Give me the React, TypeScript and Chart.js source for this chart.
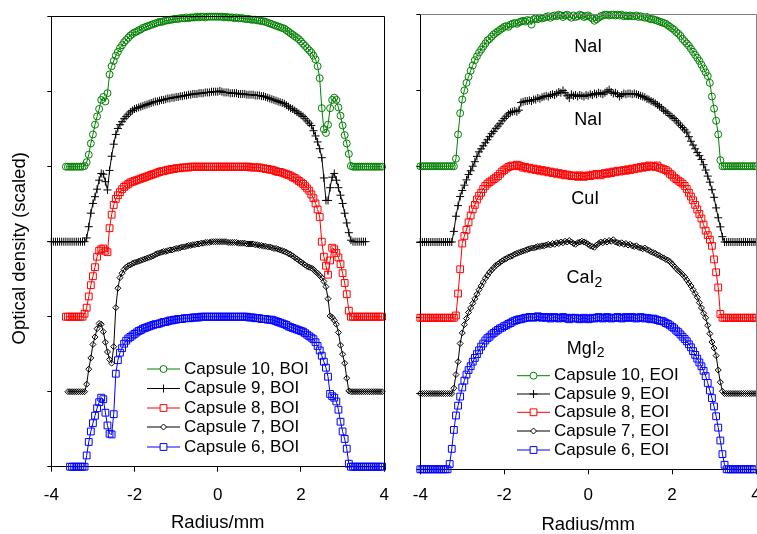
import React, { useEffect, useRef } from 'react';
import { Chart, registerables } from 'chart.js';

Chart.register(...registerables);
Chart.defaults.font.family = "'Liberation Sans', Arial, sans-serif";
Chart.defaults.color = '#000';

const _ = null;

// radius grid (mm)
const RADIUS_MM = [
  -4, -3.95, -3.9, -3.85, -3.8, -3.75, -3.7, -3.65, -3.6, -3.55, -3.5, -3.45, -3.4, -3.35, -3.3, -3.25, -3.2, -3.15, -3.1, -3.05,
  -3, -2.95, -2.9, -2.85, -2.8, -2.75, -2.7, -2.65, -2.6, -2.55, -2.5, -2.45, -2.4, -2.35, -2.3, -2.25, -2.2, -2.15, -2.1, -2.05,
  -2, -1.95, -1.9, -1.85, -1.8, -1.75, -1.7, -1.65, -1.6, -1.55, -1.5, -1.45, -1.4, -1.35, -1.3, -1.25, -1.2, -1.15, -1.1, -1.05,
  -1, -0.95, -0.9, -0.85, -0.8, -0.75, -0.7, -0.65, -0.6, -0.55, -0.5, -0.45, -0.4, -0.35, -0.3, -0.25, -0.2, -0.15, -0.1, -0.05,
  0, 0.05, 0.1, 0.15, 0.2, 0.25, 0.3, 0.35, 0.4, 0.45, 0.5, 0.55, 0.6, 0.65, 0.7, 0.75, 0.8, 0.85, 0.9, 0.95,
  1, 1.05, 1.1, 1.15, 1.2, 1.25, 1.3, 1.35, 1.4, 1.45, 1.5, 1.55, 1.6, 1.65, 1.7, 1.75, 1.8, 1.85, 1.9, 1.95,
  2, 2.05, 2.1, 2.15, 2.2, 2.25, 2.3, 2.35, 2.4, 2.45, 2.5, 2.55, 2.6, 2.65, 2.7, 2.75, 2.8, 2.85, 2.9, 2.95,
  3, 3.05, 3.1, 3.15, 3.2, 3.25, 3.3, 3.35, 3.4, 3.45, 3.5, 3.55, 3.6, 3.65, 3.7, 3.75, 3.8, 3.85, 3.9, 3.95,
  4,
];

const CAPSULES = ['Capsule 10', 'Capsule 9', 'Capsule 8', 'Capsule 7', 'Capsule 6'];
const OFFSETS = [4, 3, 2, 1, 0];
const X_TICK_STEP = 2;
const Y_TICK_STEP = 1;
const X_TITLE = 'Radius/mm';
const Y_TITLE = 'Optical density (scaled)';

// ---- BOI profiles (scaled, above each capsule's offset) ----
const BOI_10 = [
  _, _, _, _, _, _, _, 0, 0, 0, 0, 0, 0, 0, 0, 0, 0.01, 0.06, 0.16, 0.31,
  0.43, 0.56, 0.67, 0.77, 0.89, 0.93, 0.87, 0.98, 1.23, 1.34, 1.41, 1.48, 1.53, 1.58, 1.62, 1.66, 1.69, 1.72, 1.75, 1.77,
  1.79, 1.80, 1.82, 1.83, 1.85, 1.86, 1.87, 1.88, 1.89, 1.90, 1.91, 1.92, 1.93, 1.93, 1.94, 1.95, 1.95, 1.96, 1.96, 1.97,
  1.97, 1.97, 1.98, 1.98, 1.98, 1.99, 1.98, 1.99, 1.99, 1.99, 2.00, 1.99, 2.00, 2.00, 1.99, 2.00, 2.00, 2.00, 2.00, 2.00,
  2.00, 2.00, 2.00, 1.99, 2.00, 1.99, 1.99, 1.99, 1.98, 1.99, 1.98, 1.98, 1.98, 1.97, 1.97, 1.97, 1.96, 1.96, 1.96, 1.95,
  1.95, 1.94, 1.94, 1.93, 1.92, 1.91, 1.90, 1.89, 1.88, 1.87, 1.86, 1.85, 1.84, 1.82, 1.80, 1.78, 1.76, 1.74, 1.72, 1.70,
  1.67, 1.64, 1.61, 1.58, 1.55, 1.52, 1.48, 1.43, 1.34, 1.18, 0.78, 0.50, 0.45, 0.56, 0.78, 0.89, 0.92, 0.89, 0.79, 0.68,
  0.55, 0.42, 0.31, 0.17, 0.01, 0, 0, 0, 0, 0, 0, 0, 0, 0, 0, 0, 0, 0, 0, 0,
  _,
];
const BOI_9 = [
  0, 0, 0, 0, 0, 0, 0, 0, 0, 0, 0, 0, 0, 0, 0, 0, 0, 0.05, 0.20, 0.38,
  0.51, 0.60, 0.70, 0.82, 0.91, 0.90, 0.80, 0.69, 0.95, 1.14, 1.30, 1.43, 1.51, 1.56, 1.60, 1.64, 1.67, 1.70, 1.73, 1.75,
  1.77, 1.78, 1.79, 1.80, 1.81, 1.82, 1.83, 1.84, 1.85, 1.86, 1.87, 1.87, 1.88, 1.89, 1.89, 1.90, 1.91, 1.91, 1.92, 1.92,
  1.93, 1.93, 1.94, 1.94, 1.95, 1.95, 1.96, 1.96, 1.97, 1.97, 1.97, 1.98, 1.98, 1.98, 1.99, 1.99, 1.99, 2.00, 2.00, 2.00,
  2.00, 2.01, 2.00, 1.99, 1.99, 1.99, 1.98, 1.98, 1.98, 1.98, 1.97, 1.97, 1.97, 1.97, 1.96, 1.96, 1.96, 1.96, 1.95, 1.95,
  1.95, 1.94, 1.94, 1.93, 1.92, 1.91, 1.90, 1.89, 1.88, 1.87, 1.86, 1.85, 1.84, 1.82, 1.80, 1.78, 1.77, 1.75, 1.73, 1.71,
  1.69, 1.67, 1.64, 1.61, 1.58, 1.55, 1.48, 1.41, 1.33, 1.24, 1.12, 0.85, 0.55, 0.55, 0.72, 0.86, 0.91, 0.82, 0.72, 0.62,
  0.51, 0.38, 0.25, 0.12, 0.02, 0, 0, 0, 0, 0, 0, 0, _, _, _, _, _, _, _, _,
  _,
];
const BOI_8 = [
  _, _, _, _, _, _, _, 0, 0, 0, 0, 0, 0, 0, 0, 0, 0.04, 0.12, 0.27, 0.42,
  0.54, 0.66, 0.80, 0.88, 0.90, 0.91, 0.88, 0.86, 1.18, 1.36, 1.49, 1.57, 1.62, 1.66, 1.70, 1.73, 1.75, 1.77, 1.79, 1.80,
  1.81, 1.82, 1.83, 1.84, 1.85, 1.86, 1.87, 1.88, 1.89, 1.90, 1.91, 1.92, 1.93, 1.94, 1.94, 1.95, 1.96, 1.96, 1.97, 1.97,
  1.98, 1.98, 1.98, 1.99, 1.99, 1.99, 1.99, 2.00, 2.00, 2.00, 2.00, 2.00, 2.00, 2.00, 2.00, 2.00, 2.00, 2.00, 2.00, 2.00,
  2.00, 2.00, 2.00, 2.00, 2.00, 2.00, 2.00, 2.00, 2.00, 2.00, 2.00, 2.00, 2.00, 2.00, 2.00, 2.00, 1.99, 1.99, 1.99, 1.99,
  1.99, 1.98, 1.98, 1.97, 1.97, 1.96, 1.96, 1.95, 1.94, 1.93, 1.93, 1.92, 1.91, 1.90, 1.89, 1.88, 1.86, 1.85, 1.83, 1.81,
  1.79, 1.77, 1.74, 1.71, 1.68, 1.63, 1.58, 1.51, 1.43, 1.33, 1.00, 0.80, 0.68, 0.56, 0.75, 0.92, 0.90, 0.85, 0.79, 0.70,
  0.58, 0.45, 0.30, 0.08, 0, 0, 0, 0, 0, 0, 0, 0, 0, 0, 0, 0, 0, 0, 0, 0,
  _,
];
const BOI_7 = [
  _, _, _, _, _, _, _, _, 0, 0, 0, 0, 0, 0, 0, 0, 0, 0.10, 0.30, 0.45,
  0.63, 0.73, 0.84, 0.91, 0.90, 0.80, 0.66, 0.53, 0.43, 0.38, 0.60, 1.12, 1.38, 1.52, 1.58, 1.63, 1.66, 1.68, 1.69, 1.71,
  1.72, 1.73, 1.74, 1.75, 1.76, 1.77, 1.78, 1.79, 1.80, 1.81, 1.83, 1.84, 1.85, 1.86, 1.87, 1.87, 1.88, 1.89, 1.89, 1.90,
  1.91, 1.91, 1.92, 1.93, 1.93, 1.94, 1.95, 1.95, 1.96, 1.96, 1.97, 1.97, 1.98, 1.98, 1.99, 1.99, 1.99, 2.00, 2.00, 2.00,
  2.00, 2.00, 2.00, 2.00, 2.00, 1.99, 1.99, 1.99, 1.99, 1.99, 1.98, 1.98, 1.98, 1.98, 1.97, 1.97, 1.97, 1.97, 1.96, 1.96,
  1.95, 1.95, 1.94, 1.94, 1.93, 1.93, 1.92, 1.91, 1.91, 1.90, 1.89, 1.88, 1.87, 1.86, 1.84, 1.83, 1.81, 1.79, 1.77, 1.75,
  1.73, 1.71, 1.69, 1.67, 1.66, 1.65, 1.63, 1.60, 1.58, 1.55, 1.52, 1.47, 1.40, 1.24, 1.01, 0.99, 0.95, 0.90, 0.79, 0.62,
  0.50, 0.38, 0.18, 0.01, 0, 0, 0, 0, 0, 0, 0, 0, 0, 0, 0, 0, 0, 0, 0, 0,
  _,
];
const BOI_6 = [
  _, _, _, _, _, _, _, _, _, 0, 0, 0, 0, 0, 0, 0, 0, 0.15, 0.33, 0.47,
  0.58, 0.68, 0.78, 0.86, 0.92, 0.90, 0.72, 0.55, 0.44, 0.43, 0.70, 1.24, 1.42, 1.52, 1.58, 1.64, 1.68, 1.71, 1.73, 1.75,
  1.77, 1.79, 1.81, 1.82, 1.84, 1.85, 1.86, 1.87, 1.88, 1.89, 1.90, 1.90, 1.91, 1.92, 1.93, 1.93, 1.94, 1.95, 1.95, 1.96,
  1.96, 1.97, 1.97, 1.97, 1.98, 1.98, 1.98, 1.98, 1.99, 1.99, 1.99, 1.99, 2.00, 2.00, 2.00, 2.00, 2.00, 2.00, 2.00, 2.00,
  2.00, 2.00, 2.00, 2.00, 2.00, 2.00, 2.00, 2.00, 2.00, 2.00, 2.00, 2.00, 2.00, 2.00, 2.00, 1.99, 1.99, 1.99, 1.98, 1.98,
  1.98, 1.97, 1.97, 1.97, 1.96, 1.96, 1.96, 1.95, 1.94, 1.93, 1.92, 1.91, 1.90, 1.89, 1.87, 1.86, 1.85, 1.84, 1.83, 1.82,
  1.81, 1.80, 1.78, 1.76, 1.74, 1.72, 1.70, 1.66, 1.61, 1.55, 1.48, 1.40, 1.32, 1.20, 0.97, 0.94, 0.92, 0.87, 0.76, 0.60,
  0.47, 0.37, 0.24, 0.04, 0, 0, 0, 0, 0, 0, 0, 0, 0, 0, 0, 0, 0, 0, 0, 0,
  _,
];

// ---- EOI profiles ----
const EOI_10 = [
  0, 0, 0, 0, 0, 0, 0, 0, 0, 0, 0, 0, 0, 0, 0, 0, 0, 0.10, 0.42, 0.70,
  0.88, 1.00, 1.10, 1.18, 1.26, 1.33, 1.40, 1.45, 1.50, 1.54, 1.58, 1.62, 1.66, 1.68, 1.71, 1.74, 1.76, 1.78, 1.80, 1.82,
  1.84, 1.85, 1.84, 1.87, 1.88, 1.89, 1.88, 1.90, 1.91, 1.92, 1.91, 1.93, 1.92, 1.87, 1.94, 1.95, 1.94, 1.96, 1.95, 1.96,
  1.97, 1.98, 1.96, 1.98, 1.99, 1.98, 2.00, 1.99, 1.97, 1.99, 2.00, 1.98, 1.96, 1.99, 1.97, 1.98, 2.00, 1.99, 1.97, 1.98,
  1.99, 1.97, 1.95, 1.92, 1.94, 1.96, 1.98, 1.99, 2.00, 2.00, 1.99, 2.00, 2.00, 1.99, 2.00, 1.99, 2.00, 1.98, 1.99, 1.98,
  1.99, 1.98, 1.98, 1.99, 1.97, 1.98, 1.97, 1.96, 1.97, 1.95, 1.94, 1.94, 1.93, 1.92, 1.91, 1.90, 1.89, 1.88, 1.86, 1.84,
  1.82, 1.80, 1.77, 1.75, 1.72, 1.68, 1.65, 1.62, 1.59, 1.55, 1.51, 1.47, 1.43, 1.39, 1.34, 1.29, 1.24, 1.19, 1.10, 0.92,
  0.76, 0.60, 0.42, 0.08, 0, 0, 0, 0, 0, 0, 0, 0, 0, 0, 0, 0, 0, 0, 0, 0,
  0,
];
const EOI_9 = [
  0, 0, 0, 0, 0, 0, 0, 0, 0, 0, 0, 0, 0, 0, 0, 0, 0.14, 0.34, 0.48, 0.60,
  0.68, 0.75, 0.82, 0.89, 0.94, 1.00, 1.06, 1.13, 1.19, 1.23, 1.27, 1.31, 1.35, 1.39, 1.43, 1.46, 1.50, 1.53, 1.56, 1.60,
  1.63, 1.66, 1.69, 1.71, 1.72, 1.73, 1.72, 1.74, 1.84, 1.85, 1.86, 1.86, 1.87, 1.86, 1.88, 1.88, 1.90, 1.89, 1.91, 1.92,
  1.93, 1.92, 1.94, 1.95, 1.94, 1.96, 1.98, 1.97, 2.00, 1.97, 1.93, 1.90, 1.95, 1.93, 1.94, 1.92, 1.94, 1.93, 1.92, 1.94,
  1.93, 1.95, 1.94, 1.96, 1.95, 1.97, 1.96, 1.95, 1.97, 1.99, 2.01, 1.98, 1.96, 1.97, 1.95, 1.92, 1.94, 1.96, 1.95, 1.96,
  1.96, 1.95, 1.96, 1.95, 1.94, 1.93, 1.92, 1.91, 1.89, 1.88, 1.86, 1.85, 1.83, 1.81, 1.79, 1.77, 1.74, 1.72, 1.70, 1.67,
  1.65, 1.63, 1.60, 1.57, 1.54, 1.51, 1.48, 1.45, 1.39, 1.33, 1.28, 1.23, 1.18, 1.14, 1.09, 1.02, 0.95, 0.87, 0.79, 0.69,
  0.59, 0.45, 0.32, 0.20, 0.07, 0, 0, 0, 0, 0, 0, 0, 0, 0, 0, 0, 0, 0, 0, 0,
  0,
];
const EOI_8 = [
  0, 0, 0, 0, 0, 0, 0, 0, 0, 0, 0, 0, 0, 0, 0, 0, 0, 0.03, 0.32, 0.64,
  0.98, 1.08, 1.16, 1.26, 1.35, 1.43, 1.49, 1.56, 1.61, 1.65, 1.70, 1.74, 1.77, 1.79, 1.81, 1.83, 1.85, 1.87, 1.90, 1.93,
  1.95, 1.97, 1.99, 2.00, 2.01, 2.00, 2.02, 2.01, 2.00, 1.98, 1.99, 1.97, 1.98, 1.96, 1.97, 1.95, 1.96, 1.94, 1.95, 1.93,
  1.94, 1.92, 1.93, 1.91, 1.92, 1.90, 1.91, 1.89, 1.90, 1.88, 1.89, 1.88, 1.87, 1.88, 1.87, 1.86, 1.88, 1.87, 1.86, 1.87,
  1.88, 1.87, 1.89, 1.88, 1.90, 1.89, 1.88, 1.90, 1.91, 1.90, 1.92, 1.91, 1.93, 1.92, 1.94, 1.93, 1.94, 1.95, 1.94, 1.96,
  1.95, 1.97, 1.96, 1.98, 1.97, 1.99, 1.98, 2.00, 1.99, 2.01, 2.00, 2.00, 1.99, 2.01, 1.98, 1.97, 1.96, 1.95, 1.93, 1.90,
  1.88, 1.85, 1.83, 1.81, 1.79, 1.77, 1.74, 1.70, 1.65, 1.60, 1.55, 1.49, 1.43, 1.37, 1.31, 1.23, 1.15, 1.09, 1.03, 0.95,
  0.77, 0.60, 0.40, 0.05, 0, 0, 0, 0, 0, 0, 0, 0, 0, 0, 0, 0, 0, 0, 0, 0,
  0,
];
const EOI_7 = [
  0, 0, 0, 0, 0, 0, 0, 0, 0, 0, 0, 0, 0, 0, 0, 0, 0.07, 0.25, 0.42, 0.66,
  0.80, 0.91, 0.99, 1.07, 1.13, 1.19, 1.25, 1.31, 1.37, 1.42, 1.47, 1.52, 1.56, 1.60, 1.63, 1.66, 1.69, 1.71, 1.73, 1.75,
  1.77, 1.78, 1.80, 1.81, 1.82, 1.84, 1.85, 1.86, 1.87, 1.88, 1.89, 1.90, 1.91, 1.92, 1.92, 1.93, 1.94, 1.94, 1.95, 1.95,
  1.96, 1.97, 1.96, 1.98, 1.97, 1.99, 1.98, 2.00, 1.99, 2.01, 2.00, 2.02, 2.00, 1.98, 1.97, 1.99, 2.00, 2.01, 2.00, 1.99,
  1.97, 1.95, 1.94, 1.93, 1.96, 1.98, 2.00, 1.99, 2.01, 2.00, 2.02, 2.01, 2.03, 2.00, 1.99, 1.98, 1.99, 1.97, 1.98, 1.96,
  1.97, 1.95, 1.94, 1.95, 1.93, 1.92, 1.91, 1.92, 1.90, 1.89, 1.87, 1.86, 1.85, 1.83, 1.82, 1.80, 1.79, 1.77, 1.76, 1.74,
  1.71, 1.68, 1.65, 1.62, 1.60, 1.57, 1.54, 1.50, 1.46, 1.42, 1.37, 1.32, 1.27, 1.20, 1.13, 1.06, 1.00, 0.90, 0.79, 0.68,
  0.60, 0.50, 0.31, 0.15, 0.03, 0, 0, 0, 0, 0, 0, 0, 0, 0, 0, 0, 0, 0, 0, 0,
  0,
];
const EOI_6 = [
  0, 0, 0, 0, 0, 0, 0, 0, 0, 0, 0, 0, 0, 0, 0.07, 0.27, 0.52, 0.71, 0.84, 0.96,
  1.08, 1.17, 1.25, 1.31, 1.36, 1.42, 1.47, 1.52, 1.57, 1.62, 1.66, 1.70, 1.73, 1.75, 1.78, 1.80, 1.82, 1.84, 1.86, 1.87,
  1.89, 1.90, 1.92, 1.93, 1.95, 1.96, 1.97, 1.98, 1.98, 1.99, 2.00, 2.00, 2.01, 2.01, 2.00, 2.01, 2.02, 2.01, 2.00, 2.01,
  2.00, 2.01, 1.99, 2.00, 2.01, 2.00, 1.99, 2.00, 2.01, 2.00, 1.99, 1.98, 2.00, 1.99, 2.00, 1.99, 1.98, 1.99, 2.00, 1.99,
  1.98, 1.99, 2.00, 1.99, 2.00, 2.01, 2.00, 1.99, 2.00, 2.01, 2.00, 1.99, 2.00, 2.00, 2.01, 2.00, 1.99, 2.00, 2.01, 2.00,
  2.00, 2.01, 2.00, 1.99, 2.00, 2.01, 2.00, 1.99, 2.00, 1.99, 1.98, 1.99, 1.98, 1.97, 1.96, 1.96, 1.95, 1.93, 1.92, 1.90,
  1.88, 1.86, 1.83, 1.81, 1.78, 1.75, 1.72, 1.69, 1.65, 1.61, 1.56, 1.51, 1.46, 1.41, 1.36, 1.30, 1.23, 1.14, 1.04, 0.94,
  0.83, 0.70, 0.55, 0.38, 0.20, 0.06, 0, 0, 0, 0, 0, 0, 0, 0, 0, 0, 0, 0, 0, 0,
  _,
];

const BOI_SERIES = [BOI_10, BOI_9, BOI_8, BOI_7, BOI_6];
const EOI_SERIES = [EOI_10, EOI_9, EOI_8, EOI_7, EOI_6];

// salt labels on the EOI panel: text, subscript, x (mm), y (scaled)
const SALT_TEXT = ['NaI', 'NaI', 'CuI', 'CaI', 'MgI'];
const SALT_SUB = ['', '', '', '2', '2'];
const SALT_X = [0, 0, -0.07, -0.09, -0.06];
const SALT_Y = [5.59, 4.63, 3.58, 2.54, 1.61];

const COLORS = ['#008000', '#000000', '#ff0000', '#000000', '#0000ff'];
const POINT_STYLES = ['circle', 'cross', 'rect', 'rectRot', 'rect'];
const POINT_RADII = [3.5, 4, 4.8, 3, 4.8];

const FONT = "'Liberation Sans', Arial, sans-serif";

function makeDatasets(series: (number | null)[][], suffix: string) {
  return series.map((vals, i) => ({
    label: `${CAPSULES[i]}, ${suffix}`,
    data: RADIUS_MM.map((x, k) => (vals[k] === null || vals[k] === undefined ? null : { x, y: (vals[k] as number) + OFFSETS[i] })).filter((p) => p !== null),
    borderColor: COLORS[i],
    backgroundColor: 'rgba(0,0,0,0)',
    borderWidth: 1,
    pointStyle: POINT_STYLES[i],
    pointRadius: POINT_RADII[i],
    pointHoverRadius: POINT_RADII[i],
    pointBorderWidth: 1,
    pointBorderColor: COLORS[i],
    pointBackgroundColor: 'rgba(0,0,0,0)',
    tension: 0,
    fill: false,
    clip: false,
  }));
}

function drawMarker(ctx: CanvasRenderingContext2D, style: string, x: number, y: number, r: number) {
  ctx.beginPath();
  if (style === 'circle') {
    ctx.arc(x, y, r, 0, Math.PI * 2);
  } else if (style === 'rect') {
    const h = r * Math.SQRT1_2;
    ctx.rect(x - h, y - h, 2 * h, 2 * h);
  } else if (style === 'rectRot') {
    ctx.moveTo(x - r, y);
    ctx.lineTo(x, y - r);
    ctx.lineTo(x + r, y);
    ctx.lineTo(x, y + r);
    ctx.closePath();
  } else {
    ctx.moveTo(x - r, y);
    ctx.lineTo(x + r, y);
    ctx.moveTo(x, y - r);
    ctx.lineTo(x, y + r);
  }
  if (style !== 'cross') {
    ctx.fillStyle = '#fff';
    ctx.fill();
  }
  ctx.stroke();
}

function legendPlugin(x0: number, x1: number, tx: number, rows: number[]) {
  return {
    id: 'customLegend',
    afterDraw(chart: any) {
      const ctx = chart.ctx as CanvasRenderingContext2D;
      ctx.save();
      chart.data.datasets.forEach((ds: any, i: number) => {
        const y = rows[i];
        ctx.strokeStyle = ds.borderColor;
        ctx.lineWidth = 1;
        ctx.beginPath();
        ctx.moveTo(x0, y);
        ctx.lineTo(x1, y);
        ctx.stroke();
        drawMarker(ctx, ds.pointStyle, (x0 + x1) / 2, y, ds.pointRadius);
        ctx.fillStyle = '#000';
        ctx.font = `17px ${FONT}`;
        ctx.textAlign = 'left';
        ctx.textBaseline = 'middle';
        ctx.fillText(ds.label, tx, y);
      });
      ctx.restore();
    },
  };
}

function framePlugin(color: string) {
  return {
    id: 'frame',
    afterDraw(chart: any) {
      const { left, right, top, bottom } = chart.chartArea;
      const ctx = chart.ctx as CanvasRenderingContext2D;
      const al = (p: number) => Math.round(p - 0.5) + 0.5;
      ctx.save();
      ctx.strokeStyle = color;
      ctx.lineWidth = 1;
      ctx.beginPath();
      ctx.moveTo(al(left), al(top));
      ctx.lineTo(al(right), al(top));
      ctx.lineTo(al(right), al(bottom));
      ctx.stroke();
      ctx.restore();
    },
  };
}

// y-axis title drawn slightly below the axis centre, as in the reference
const yTitlePlugin = {
  id: 'yTitle',
  afterDraw(chart: any) {
    const ctx = chart.ctx as CanvasRenderingContext2D;
    ctx.save();
    ctx.translate(20, 248.3);
    ctx.rotate(-Math.PI / 2);
    ctx.fillStyle = '#000';
    ctx.font = `18.5px ${FONT}`;
    ctx.textAlign = 'center';
    ctx.textBaseline = 'middle';
    ctx.fillText(Y_TITLE, 0, 0);
    ctx.restore();
  },
};

const saltPlugin = {
  id: 'salts',
  afterDraw(chart: any) {
    const ctx = chart.ctx as CanvasRenderingContext2D;
    const xs = chart.scales.x;
    const ys = chart.scales.y;
    ctx.save();
    ctx.fillStyle = '#000';
    ctx.textBaseline = 'alphabetic';
    ctx.textAlign = 'left';
    SALT_TEXT.forEach((t, i) => {
      const cx = xs.getPixelForValue(SALT_X[i]);
      const cy = ys.getPixelForValue(SALT_Y[i]);
      ctx.font = `18px ${FONT}`;
      const w1 = ctx.measureText(t).width;
      ctx.font = `14px ${FONT}`;
      const w2 = SALT_SUB[i] ? ctx.measureText(SALT_SUB[i]).width : 0;
      const x0 = cx - (w1 + w2) / 2;
      const base = cy + 6.4;
      ctx.font = `18px ${FONT}`;
      ctx.fillText(t, x0, base);
      if (SALT_SUB[i]) {
        ctx.font = `14px ${FONT}`;
        ctx.fillText(SALT_SUB[i], x0 + w1, base + 3.7);
      }
    });
    ctx.restore();
  },
};

function makeConfig(opts: {
  series: (number | null)[][];
  suffix: string;
  padTop: number;
  padRight: number;
  yWidth: number;
  xHeight: number;
  tickPad: number;
  frameColor: string;
  legend: [number, number, number, number[]];
  extra: any[];
}): any {
  return {
    type: 'line',
    data: { datasets: makeDatasets(opts.series, opts.suffix) },
    options: {
      animation: false,
      responsive: false,
      maintainAspectRatio: false,
      devicePixelRatio: 1,
      events: [],
      layout: { padding: { left: 0, top: opts.padTop, right: opts.padRight, bottom: 0 } },
      plugins: { legend: { display: false }, tooltip: { enabled: false } },
      scales: {
        x: {
          type: 'linear',
          min: -4,
          max: 4,
          ticks: { stepSize: X_TICK_STEP, padding: opts.tickPad, font: { size: 17 }, color: '#000' },
          grid: { drawOnChartArea: false, drawTicks: true, tickLength: 5, color: '#000' },
          border: { display: true, color: '#000', width: 1 },
          title: { display: true, text: X_TITLE, font: { size: 18.5 }, color: '#000', padding: { top: 0, bottom: 0 } },
          afterFit: (s: any) => {
            s.height = opts.xHeight;
            s.paddingLeft = 0;
            s.paddingRight = 0;
          },
        },
        y: {
          type: 'linear',
          min: 0,
          max: 6,
          ticks: { stepSize: Y_TICK_STEP, display: false },
          grid: { drawOnChartArea: false, drawTicks: true, tickLength: 4, color: '#000' },
          border: { display: true, color: '#000', width: 1 },
          title: { display: false },
          afterFit: (s: any) => {
            s.width = opts.yWidth;
            s.paddingTop = 0;
            s.paddingBottom = 0;
          },
        },
      },
    },
    plugins: [framePlugin(opts.frameColor), legendPlugin(...opts.legend), ...opts.extra],
  };
}

export default function App() {
  const refA = useRef<HTMLCanvasElement>(null);
  const refB = useRef<HTMLCanvasElement>(null);

  useEffect(() => {
    const a = new Chart(
      refA.current as HTMLCanvasElement,
      makeConfig({
        series: BOI_SERIES,
        suffix: 'BOI',
        padTop: 16.7,
        padRight: 395 - 384.2,
        yWidth: 51.3,
        xHeight: 534 - 466.7,
        tickPad: 13.0,
        frameColor: '#000',
        legend: [147, 180, 184, [369, 388.5, 408, 427, 447]],
        extra: [yTitlePlugin],
      })
    );
    const b = new Chart(
      refB.current as HTMLCanvasElement,
      makeConfig({
        series: EOI_SERIES,
        suffix: 'EOI',
        padTop: 14.7,
        padRight: 380 - 361,
        yWidth: 25.3,
        xHeight: 536 - 469.3,
        tickPad: 10.8,
        frameColor: '#808080',
        legend: [122, 155, 159, [375.7, 394, 412.3, 431, 450]],
        extra: [saltPlugin],
      })
    );
    return () => {
      a.destroy();
      b.destroy();
    };
  }, []);

  return (
    <div style={{ position: 'fixed', left: 0, top: 0, width: 757, height: 534, overflow: 'hidden', background: '#fff' }}>
      <canvas ref={refA} width={395} height={534} style={{ position: 'absolute', left: 0, top: 0, width: 395, height: 534 }} />
      <canvas ref={refB} width={380} height={536} style={{ position: 'absolute', left: 395, top: 0, width: 380, height: 536 }} />
    </div>
  );
}
